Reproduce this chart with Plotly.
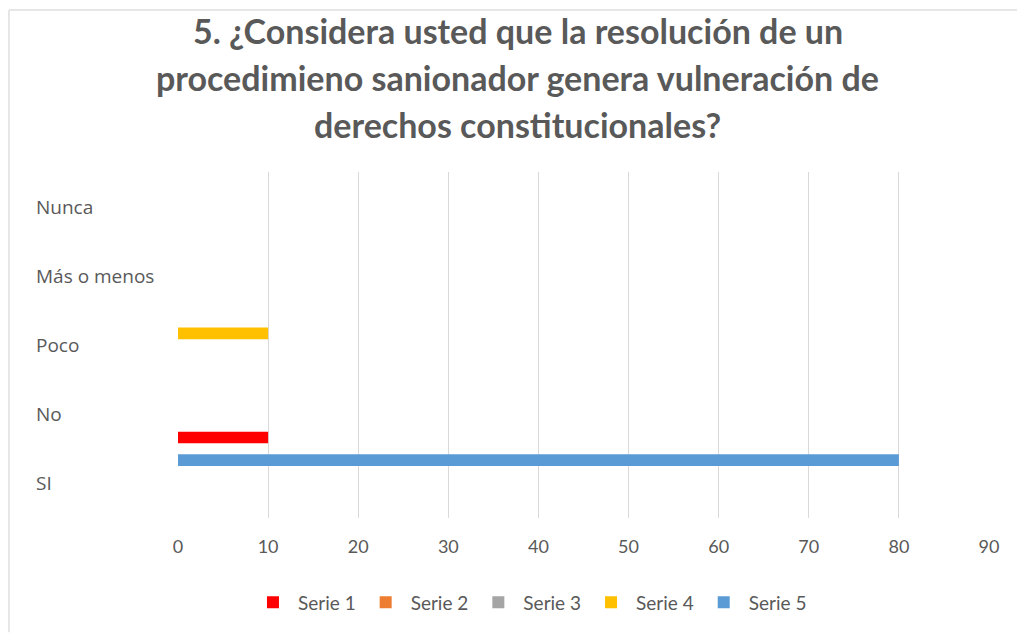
import plotly.graph_objects as go

categorias = ['SI', 'No', 'Poco', 'Más o menos', 'Nunca']
serie_1 = [0, 10, 0, 0, 0]
serie_2 = [0, 0, 0, 0, 0]
serie_3 = [0, 0, 0, 0, 0]
serie_4 = [0, 0, 10, 0, 0]
serie_5 = [80, 0, 0, 0, 0]
nombres = ['Serie 1', 'Serie 2', 'Serie 3', 'Serie 4', 'Serie 5']
colores = ['#ff0000', '#ed7d31', '#a5a5a5', '#ffc000', '#5b9bd5']

titulo = ["5. ¿Considera usted que la resolución de un",
          "procedimieno sanionador genera vulneración de",
          "derechos constitucionales?"]

gris = '#595959'

fig = go.Figure()
for nombre, valores, color in zip(nombres, [serie_1, serie_2, serie_3, serie_4, serie_5], colores):
    fig.add_trace(go.Bar(y=categorias, x=valores, name=nombre, orientation='h',
                         marker_color=color, marker_line_width=0))

# titulo en tres lineas (interlineado amplio como en Excel)
for linea, yy in zip(titulo, [1.408, 1.273, 1.138]):
    fig.add_annotation(x=0.419, xref='paper', y=yy, yref='paper', text=linea,
                       showarrow=False, xanchor='center', yanchor='middle',
                       font=dict(family='Lato', size=34, color=gris, weight=700))

# etiquetas de categoria alineadas a la izquierda
for cat in categorias:
    fig.add_annotation(x=-0.1776, xref='paper', y=cat, yref='y', text=cat,
                       showarrow=False, xanchor='left',
                       font=dict(family='Open Sans', size=19, color=gris))

# borde del recorte (izquierda y arriba)
fig.add_shape(type='line', xref='paper', yref='paper', x0=-0.2084, x1=-0.2084,
              y0=1.468, y1=-0.33, line=dict(color='#e6e6e6', width=2))
fig.add_shape(type='line', xref='paper', yref='paper', x0=-0.2084, x1=1.035,
              y0=1.468, y1=1.468, line=dict(color='#e6e6e6', width=2))

fig.update_layout(
    width=1009, height=626,
    margin=dict(l=170, r=28, t=164, b=114),
    paper_bgcolor='white', plot_bgcolor='white',
    barmode='group', bargap=0.16, bargroupgap=0,
    xaxis=dict(range=[0, 90], dtick=10, showgrid=True, gridcolor='#d9d9d9',
               zeroline=False, showline=False, ticks='', ticklabelstandoff=16,
               tickfont=dict(family='Lato', size=18, color=gris)),
    yaxis=dict(showticklabels=False, showgrid=False, zeroline=False, ticks=''),
    legend=dict(orientation='h', x=0.434, xanchor='center', y=-0.244, yanchor='middle',
                font=dict(family='Lato', size=19, color=gris),
                traceorder='normal', itemwidth=40),
    showlegend=True,
)

fig.write_html("out.html")
